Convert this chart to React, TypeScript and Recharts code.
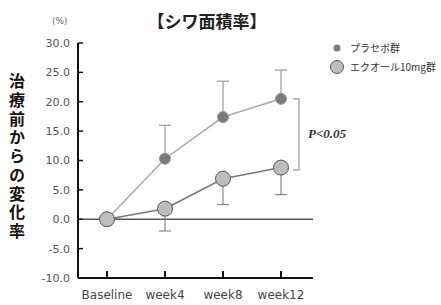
import {
  LineChart,
  Line,
  XAxis,
  YAxis,
  ErrorBar,
  ReferenceLine,
} from "recharts";

const categories = ["Baseline", "week4", "week8", "week12"];
const placebo = [0, 10.3, 17.4, 20.5];
const placeboErr = [0, 5.7, 6.1, 4.9];
const equol = [0, 1.8, 6.9, 8.8];
const equolErr = [0, 3.8, 4.4, 4.6];
const yTicks = [-10, -5, 0, 5, 10, 15, 20, 25, 30];
const bracket = [20.5, 8.4];

const data = categories.map((name, i) => ({
  name,
  placebo: placebo[i],
  placeboErr: [0, placeboErr[i]],
  equol: equol[i],
  equolErr: [equolErr[i], 0],
}));

const jp = '"Noto Sans CJK JP", sans-serif';

const Bracket = (props: any) => {
  const { x1, y1, y2 } = props;
  const x = x1 + 18;
  return (
    <g>
      <path
        d={`M${x - 6},${y1} H${x} V${y2} H${x - 6}`}
        stroke="#999"
        strokeWidth={1.2}
        fill="none"
      />
      <text
        x={x + 9}
        y={(y1 + y2) / 2 + 4}
        fontFamily='"Liberation Serif", serif'
        fontStyle="italic"
        fontWeight="bold"
        fontSize={13}
        fill="#333"
      >
        P&lt;0.05
      </text>
    </g>
  );
};

export default function App() {
  return (
    <div
      style={{
        position: "absolute",
        left: 0,
        top: 0,
        width: 441,
        height: 305,
        background: "#fff",
      }}
    >
      <div
        style={{
          position: "absolute",
          left: 0,
          width: 414,
          top: 8,
          textAlign: "center",
          fontFamily: jp,
          fontWeight: "bold",
          fontSize: 17,
          color: "#222",
        }}
      >
        【シワ面積率】
      </div>
      <div
        style={{
          position: "absolute",
          left: 52,
          top: 16,
          fontFamily: '"DejaVu Sans", sans-serif',
          fontSize: 9,
          color: "#666",
        }}
      >
        (%)
      </div>
      <div
        style={{
          position: "absolute",
          left: 9,
          top: 73,
          writingMode: "vertical-rl",
          fontFamily: jp,
          fontWeight: "bold",
          fontSize: 16,
          letterSpacing: 2.75,
          color: "#111",
          lineHeight: "16px",
        }}
      >
        治療前からの変化率
      </div>
      <svg
        width={110}
        height={40}
        style={{ position: "absolute", left: 330, top: 38 }}
      >
        <circle cx={7} cy={10} r={3.5} fill="#7a7a7a" />
        <text x={20} y={14} fontFamily={jp} fontSize={10} fill="#333">
          プラセボ群
        </text>
        <circle cx={7} cy={29} r={6.5} fill="#bdbdbd" stroke="#555" />
        <text x={20} y={33} fontFamily={jp} fontSize={10} fill="#333">
          エクオール10mg群
        </text>
      </svg>
      <div style={{ position: "absolute", left: 0, top: 0 }}>
        <LineChart
          width={441}
          height={305}
          data={data}
          margin={{ top: 43, right: 128, bottom: 0, left: 0 }}
        >
          <XAxis
            dataKey="name"
            height={27}
            padding={{ left: 29, right: 32 }}
            axisLine={{ stroke: "#111", strokeWidth: 2 }}
            tickLine={{ stroke: "#111", strokeWidth: 2 }}
            tickSize={-7}
            tickMargin={19}
            tick={{
              fill: "#444",
              fontSize: 12,
              fontFamily: '"DejaVu Sans", sans-serif',
            }}
          />
          <YAxis
            width={78}
            domain={[-10, 30]}
            ticks={yTicks}
            tickFormatter={(v: number) => v.toFixed(1)}
            axisLine={{ stroke: "#111", strokeWidth: 2 }}
            tickLine={{ stroke: "#111", strokeWidth: 1.5 }}
            tickSize={-5}
            tickMargin={13}
            tick={{
              fill: "#555",
              fontSize: 11,
              fontFamily: '"DejaVu Sans", sans-serif',
            }}
          />
          <ReferenceLine y={0} stroke="#555" strokeWidth={1.5} />
          <ReferenceLine
            segment={[
              { x: "week12", y: bracket[0] },
              { x: "week12", y: bracket[1] },
            ]}
            ifOverflow="visible"
            shape={Bracket}
          />
          <Line
            dataKey="placebo"
            stroke="#aaa"
            strokeWidth={1.5}
            dot={{ r: 5.5, fill: "#7a7a7a", stroke: "#999", strokeWidth: 1 }}
            isAnimationActive={false}
          >
            <ErrorBar
              dataKey="placeboErr"
              width={6}
              stroke="#999"
              strokeWidth={1.2}
              direction="y"
            />
          </Line>
          <Line
            dataKey="equol"
            stroke="#777"
            strokeWidth={1.5}
            dot={{ r: 7.5, fill: "#bdbdbd", stroke: "#555", strokeWidth: 1 }}
            isAnimationActive={false}
          >
            <ErrorBar
              dataKey="equolErr"
              width={6}
              stroke="#888"
              strokeWidth={1.2}
              direction="y"
            />
          </Line>
        </LineChart>
      </div>
    </div>
  );
}
